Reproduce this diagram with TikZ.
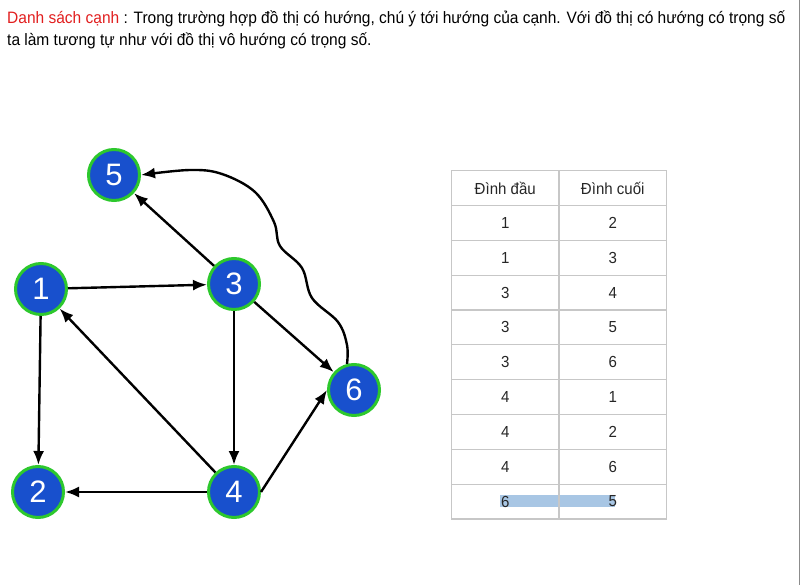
\documentclass[tikz,border=0pt]{standalone}
\usepackage{fontspec}
\setmainfont{Liberation Sans}
\newfontfamily\narrowfont[FakeStretch=0.94]{Liberation Sans}
\usetikzlibrary{arrows.meta,positioning}
\definecolor{vblue}{RGB}{24,80,205}
\definecolor{vgreen}{RGB}{45,200,45}
\definecolor{hred}{RGB}{225,30,30}
\definecolor{hlight}{RGB}{168,198,228}
\begin{document}
\begin{tikzpicture}[x=1pt,y=-1pt,node distance=34.83pt,>={Latex[length=14pt,width=11pt]}]
        \tikzstyle{vertex} = [circle, draw=vgreen, line width=3pt, fill=vblue, text=white, minimum size=51pt, inner sep=0pt, font=\fontsize{31}{31}\selectfont]
        \tikzstyle{edge} = [->, line width=2.4pt]
        \tikzstyle{cell} = [rectangle, draw=black!22, line width=1.3pt, minimum width=107.5pt, minimum height=34.83pt, inner sep=0pt, outer sep=0pt, text=black!85, font=\narrowfont\fontsize{16}{16}\selectfont]

        \useasboundingbox (0,0) rectangle (801,585);
        \draw[black!45, line width=1.5pt] (799.5,0) -- (799.5,585);

        % Heading
        \node[anchor=base west, inner sep=0pt, font=\narrowfont\fontsize{16.5}{18}\selectfont] (hdr1) at (7,24) {\textcolor{hred}{Danh sách cạnh} : Trong trường hợp đồ thị có hướng, chú ý tới hướng của cạnh. Với đồ thị có hướng có trọng số};
        \node[anchor=base west, inner sep=0pt, font=\narrowfont\fontsize{16.5}{18}\selectfont] (hdr2) at (7,46) {ta làm tương tự như với đồ thị vô hướng có trọng số.};

        % Vertices
        \node[vertex] (v5) at (114,175) {5};
        \node[vertex] (v1) at (41,289) {1};
        \node[vertex] (v3) at (234,284) {3};
        \node[vertex] (v6) at (354,390) {6};
        \node[vertex] (v2) at (38,492) {2};
        \node[vertex] (v4) at (234,492) {4};

        % Edges
        \draw[edge] (v1) -- (v3);
        \draw[edge] (v1) -- (v2);
        \draw[edge] (v3) -- (v5);
        \draw[edge] (v3) -- (v4);
        \draw[edge] (v3) -- (v6);
        \draw[edge] (v4) -- (v1);
        \draw[edge] (v4) -- (v2);
        \draw[edge] (v4.east) -- (v6.west);

        % Curved edge 6 -> 5
        \draw[edge] plot[smooth, tension=0.6] coordinates {(v6.105) (347,345) (338,322) (312,298) (302,268) (280,246) (274,222) (255,192) (222,174) (190,170) (v5.east)};

        % Table highlight
        \fill[hlight] (500,495) rectangle (615,507);

        % Table
        \node[cell] (h1) at (505.25,188.1) {Đình đầu};
        \node[cell, right=0pt of h1] (h2) {Đình cuối};
        \node[cell, below of=h1] (a1) {1};
        \node[cell, below of=h2] (b1) {2};
        \node[cell, below of=a1] (a2) {1};
        \node[cell, below of=b1] (b2) {3};
        \node[cell, below of=a2] (a3) {3};
        \node[cell, below of=b2] (b3) {4};
        \node[cell, below of=a3] (a4) {3};
        \node[cell, below of=b3] (b4) {5};
        \node[cell, below of=a4] (a5) {3};
        \node[cell, below of=b4] (b5) {6};
        \node[cell, below of=a5] (a6) {4};
        \node[cell, below of=b5] (b6) {1};
        \node[cell, below of=a6] (a7) {4};
        \node[cell, below of=b6] (b7) {2};
        \node[cell, below of=a7] (a8) {4};
        \node[cell, below of=b7] (b8) {6};
        \node[cell, below of=a8] (a9) {6};
        \node[cell, below of=b8] (b9) {5};
    \end{tikzpicture}
\end{document}
